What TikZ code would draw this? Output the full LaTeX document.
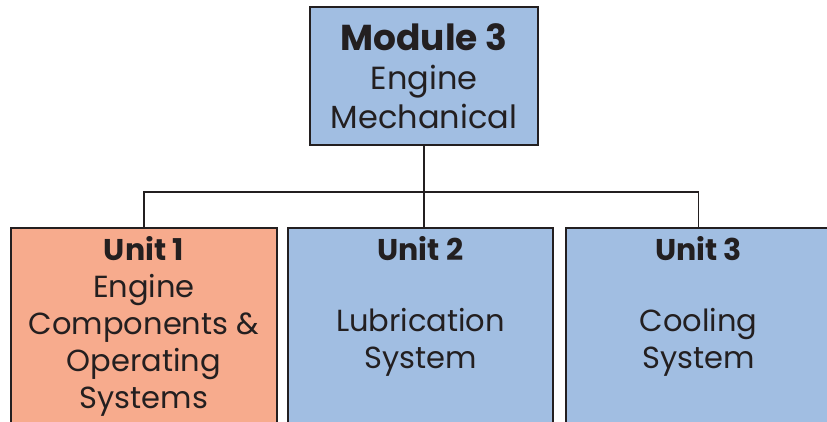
\documentclass[tikz,border=0pt]{standalone}
\usepackage{fontspec}
\setmainfont{Poppins}
\usetikzlibrary{positioning}

\definecolor{unitblue}{RGB}{161,190,226}
\definecolor{unitsalmon}{RGB}{247,171,141}
\definecolor{edgegray}{RGB}{35,31,32}

% text of a unit box, pinned to the top of the box
\newcommand{\unittext}[2]{\parbox[t][180pt][t]{258pt}{\centering\fontsize{30.5}{37}\selectfont{\fontsize{30}{37}\selectfont\bfseries #1}\\#2}}

\begin{document}
\begin{tikzpicture}[x=1pt,y=-1pt,
    modbox/.style={draw=edgegray, line width=2.2pt, fill=unitblue, text=edgegray,
        minimum width=228pt, minimum height=138pt, align=center, inner sep=2pt},
    unitbox/.style={draw=edgegray, line width=2.2pt, fill=unitblue, text=edgegray,
        minimum width=265pt, minimum height=196pt, anchor=north, inner xsep=2pt, inner ysep=3pt},
    wire/.style={draw=edgegray, line width=1.8pt}]
    \useasboundingbox (0,0) rectangle (827,421);
    \clip (0,0) rectangle (827,421);

    \node[modbox, font=\fontsize{32}{39}\selectfont] (module) at (424,76)
        {{\fontsize{36}{39}\selectfont\bfseries Module 3}\\Engine\\Mechanical};

    \node[unitbox, fill=unitsalmon, minimum width=266pt] (unit1) at (144,227)
        {\unittext{Unit 1}{Engine\\Components \&\\Operating\\Systems}};
    \node[unitbox] (unit2) at (420.5,227)
        {\unittext{Unit 2}{\mbox{}\\[-3pt]Lubrication\\System}};
    \node[unitbox] (unit3) at (698.5,227)
        {\unittext{Unit 3}{\mbox{}\\[-3pt]Cooling\\System}};

    \coordinate (bus) at (424,192);
    \draw[wire] (module.south) -- (module.south |- unit2.north);
    \draw[wire] (unit1.north) |- (bus) -| (unit3.north);
\end{tikzpicture}
\end{document}
